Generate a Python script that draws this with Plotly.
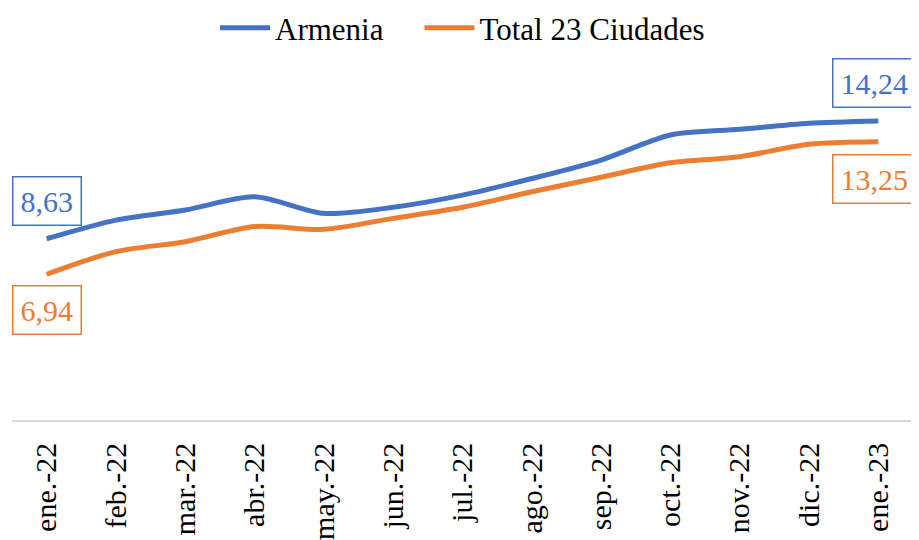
import plotly.graph_objects as go

categories = ["ene.-22", "feb.-22", "mar.-22", "abr.-22", "may.-22", "jun.-22",
              "jul.-22", "ago.-22", "sep.-22", "oct.-22", "nov.-22", "dic.-22", "ene.-23"]
armenia = [8.63, 9.52, 10.0, 10.63, 9.84, 10.13, 10.71, 11.5, 12.38, 13.57, 13.84, 14.13, 14.24]
total23 = [6.94, 8.02, 8.49, 9.21, 9.08, 9.6, 10.13, 10.87, 11.56, 12.25, 12.54, 13.13, 13.25]
series_names = ["Armenia\u00a0\u00a0\u00a0\u00a0", "Total 23 Ciudades"]

blue = "#4472C4"
orange = "#ED7D31"
font_family = "Liberation Serif, Times New Roman, serif"

fig = go.Figure()
fig.add_trace(go.Scatter(x=categories, y=armenia, name=series_names[0], mode="lines",
                         line=dict(color=blue, width=5, shape="spline", smoothing=0.8)))
fig.add_trace(go.Scatter(x=categories, y=total23, name=series_names[1], mode="lines",
                         line=dict(color=orange, width=5, shape="spline", smoothing=0.8)))

def label(idx, series, color, yshift, xshift=0):
    return dict(x=categories[idx], y=series[idx], text=f"{series[idx]:.2f}".replace(".", ","),
                showarrow=False, yshift=yshift, xshift=xshift,
                font=dict(family=font_family, size=30, color=color),
                bordercolor=color, borderwidth=1.5, borderpad=7, bgcolor="white")

# page body has an 8px margin, so the figure is 8px smaller on each used side
fig.update_layout(
    width=911, height=532,
    margin=dict(l=4, r=6, t=76, b=120, autoexpand=False),
    paper_bgcolor="white", plot_bgcolor="white",
    font=dict(family=font_family, size=30, color="black"),
    showlegend=True,
    legend=dict(orientation="h", x=0.5, xanchor="center", y=0.962, yanchor="middle",
                yref="container", font=dict(family=font_family, size=31, color="black"),
                bgcolor="rgba(0,0,0,0)", itemwidth=50),
    xaxis=dict(type="category", range=[-0.5, 12.5], showgrid=False, showline=True,
               linecolor="#D9D9D9", linewidth=1.5, ticks="", tickangle=-90, automargin=False,
               ticklabelstandoff=9,
               tickfont=dict(family=font_family, size=30, color="black")),
    yaxis=dict(range=[0, 16], showgrid=False, showticklabels=False, zeroline=False,
               showline=False, automargin=False),
    annotations=[
        label(0, armenia, blue, 38),
        label(0, total23, orange, -36),
        label(12, armenia, blue, 38, -4),
        label(12, total23, orange, -37, -4),
    ],
)

fig.write_html("out.html")
